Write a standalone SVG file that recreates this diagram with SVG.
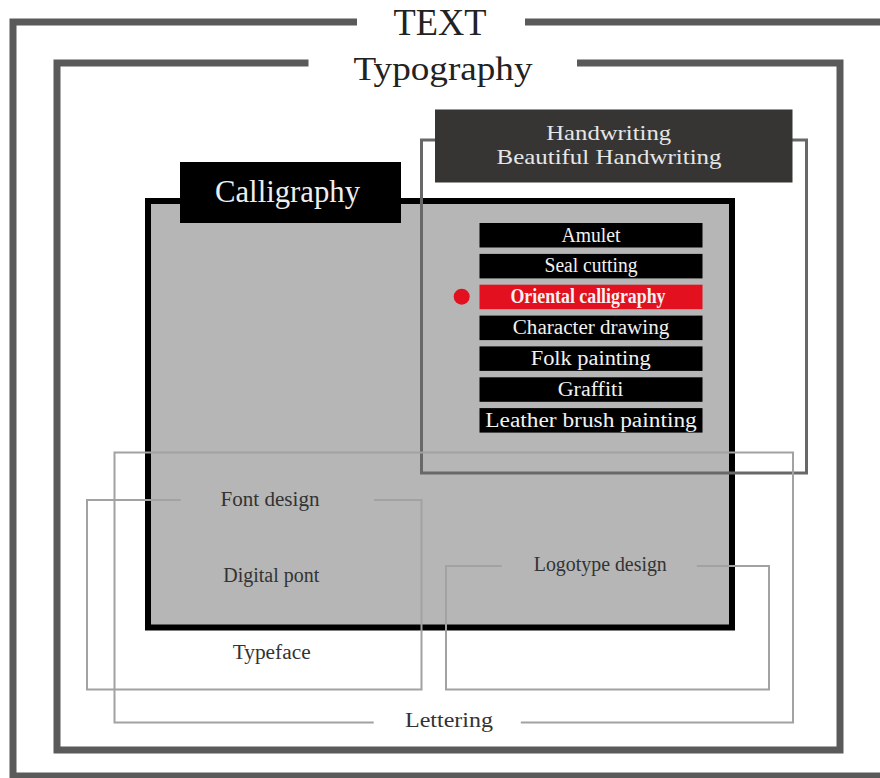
<svg xmlns="http://www.w3.org/2000/svg" width="880" height="778" viewBox="0 0 880 778">
  <style>
    .frame { fill: none; stroke: #5a5a5a; stroke-width: 7; }
    .thin { fill: none; stroke: #a2a2a2; stroke-width: 2; }
    .hw-outline { fill: none; stroke: #686868; stroke-width: 3; }
    .t { font-family: "Liberation Serif", "DejaVu Serif", serif; text-anchor: middle; }
    .title { fill: #222; }
    .label { fill: #333; font-size: 20px; }
    .item { fill: #000; }
    .item-text { fill: #f2f2f2; font-size: 20px; }
    .hot { fill: #e3101f; }
  </style>

  <rect width="880" height="778" fill="#ffffff"/>

  <!-- outer frame: TEXT -->
  <g id="text-frame">
    <polyline class="frame" points="357,22 13,22 13,776 890,776"/>
    <line class="frame" x1="525" y1="22" x2="890" y2="22"/>
    <text class="t title" x="440" y="35" font-size="37" textLength="93" lengthAdjust="spacingAndGlyphs">TEXT</text>
  </g>

  <!-- inner frame: Typography -->
  <g id="typography-frame">
    <polyline class="frame" points="308.5,63 57,63 57,750 840,750 840,63 577,63"/>
    <text class="t title" x="443" y="80" font-size="33" textLength="179" lengthAdjust="spacingAndGlyphs">Typography</text>
  </g>

  <!-- calligraphy panel -->
  <g id="calligraphy">
    <rect x="148" y="201" width="584" height="426.5" fill="#b5b6b5" stroke="#000" stroke-width="6"/>
    <rect x="180" y="162" width="221" height="61" fill="#000"/>
    <text class="t" x="287.5" y="202" font-size="31" fill="#eeeeee" textLength="145" lengthAdjust="spacingAndGlyphs">Calligraphy</text>
  </g>

  <!-- handwriting outline and header -->
  <g id="handwriting">
    <rect class="hw-outline" x="421.5" y="140" width="385" height="333"/>
    <rect x="435" y="109.5" width="357.5" height="73" fill="#363533"/>
    <text class="t" x="608.7" y="140" font-size="22" fill="#e6e6e6" textLength="125" lengthAdjust="spacingAndGlyphs">Handwriting</text>
    <text class="t" x="609" y="164" font-size="22" fill="#e6e6e6" textLength="225" lengthAdjust="spacingAndGlyphs">Beautiful Handwriting</text>
  </g>

  <!-- list of calligraphy practices -->
  <g id="item-amulet">
    <rect class="item" x="479.5" y="223" width="223" height="24.5"/>
    <text class="t item-text" x="591" y="241.5" textLength="59" lengthAdjust="spacingAndGlyphs">Amulet</text>
  </g>
  <g id="item-seal-cutting">
    <rect class="item" x="479.5" y="253.9" width="223" height="24.5"/>
    <text class="t item-text" x="591" y="272.4" textLength="93" lengthAdjust="spacingAndGlyphs">Seal cutting</text>
  </g>
  <g id="item-oriental-calligraphy">
    <circle class="hot" cx="461.7" cy="296.7" r="8"/>
    <rect class="hot" x="479.5" y="284.7" width="223" height="24.5"/>
    <text class="t item-text" x="588" y="303.2" font-weight="bold" textLength="155" lengthAdjust="spacingAndGlyphs">Oriental calligraphy</text>
  </g>
  <g id="item-character-drawing">
    <rect class="item" x="479.5" y="315.6" width="223" height="24.5"/>
    <text class="t item-text" x="591" y="334.1" textLength="156.5" lengthAdjust="spacingAndGlyphs">Character drawing</text>
  </g>
  <g id="item-folk-painting">
    <rect class="item" x="479.5" y="346.4" width="223" height="24.5"/>
    <text class="t item-text" x="590.7" y="364.9" textLength="120" lengthAdjust="spacingAndGlyphs">Folk painting</text>
  </g>
  <g id="item-graffiti">
    <rect class="item" x="479.5" y="377.3" width="223" height="24.5"/>
    <text class="t item-text" x="590.5" y="395.8" textLength="65.5" lengthAdjust="spacingAndGlyphs">Graffiti</text>
  </g>
  <g id="item-leather-brush-painting">
    <rect class="item" x="479.5" y="408.1" width="223" height="24.5"/>
    <text class="t item-text" x="591" y="426.6" textLength="211.5" lengthAdjust="spacingAndGlyphs">Leather brush painting</text>
  </g>

  <!-- bracket outlines around the lower labels -->
  <g id="connectors">
    <polyline class="thin" points="373.7,722.5 114.5,722.5 114.5,452.5 793,452.5 793,722.5 520.8,722.5"/>
    <polyline class="thin" points="180.7,500 87,500 87,689.5 421.5,689.5 421.5,500 374,500"/>
    <polyline class="thin" points="501.7,566 446,566 446,689.5 769,689.5 769,566 696.7,566"/>
  </g>

  <g id="font-design">
    <text class="t label" x="270" y="506" textLength="99" lengthAdjust="spacingAndGlyphs">Font design</text>
  </g>
  <g id="digital-pont">
    <text class="t label" x="271.3" y="581.5" textLength="96" lengthAdjust="spacingAndGlyphs">Digital pont</text>
  </g>
  <g id="typeface">
    <text class="t label" x="271.7" y="659" textLength="78" lengthAdjust="spacingAndGlyphs">Typeface</text>
  </g>
  <g id="logotype-design">
    <text class="t label" x="600.3" y="571" textLength="133" lengthAdjust="spacingAndGlyphs">Logotype design</text>
  </g>
  <g id="lettering">
    <text class="t label" x="449" y="727.3" textLength="88" lengthAdjust="spacingAndGlyphs">Lettering</text>
  </g>
</svg>
